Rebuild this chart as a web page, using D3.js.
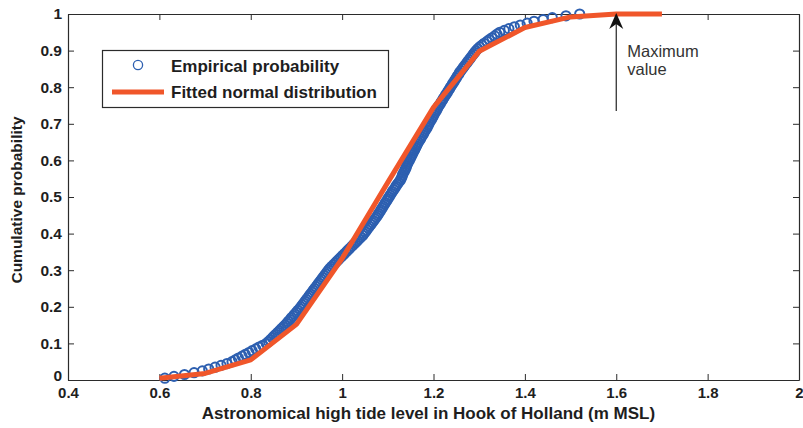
<!DOCTYPE html>
<html>
<head>
<meta charset="utf-8">
<script src="https://cdn.jsdelivr.net/npm/d3@7"></script>
<style>
  html, body { margin: 0; padding: 0; background: #fff; }
  svg { display: block; font-family: "Liberation Sans", Arial, sans-serif; }
</style>
</head>
<body>
<svg id="chart" width="803" height="428"></svg>
<script>
// Sorted astronomical high tide levels (m MSL); empirical probability = rank / n
const tideLevels = [
  0.612, 0.632, 0.655, 0.676, 0.694, 0.708, 0.722, 0.735, 0.748, 0.759,
  0.766, 0.773, 0.781, 0.788, 0.796, 0.803, 0.811, 0.818, 0.826, 0.834,
  0.839, 0.843, 0.847, 0.851, 0.855, 0.859, 0.863, 0.867, 0.871, 0.875,
  0.879, 0.882, 0.886, 0.889, 0.893, 0.896, 0.900, 0.903, 0.907, 0.910,
  0.913, 0.916, 0.919, 0.922, 0.925, 0.928, 0.931, 0.934, 0.937, 0.940,
  0.943, 0.946, 0.949, 0.952, 0.955, 0.958, 0.961, 0.964, 0.967, 0.970,
  0.973, 0.977, 0.981, 0.985, 0.989, 0.993, 0.997, 1.001, 1.005, 1.009,
  1.013, 1.017, 1.021, 1.025, 1.029, 1.033, 1.037, 1.041, 1.045, 1.048,
  1.051, 1.054, 1.057, 1.060, 1.063, 1.066, 1.069, 1.072, 1.075, 1.078,
  1.080, 1.083, 1.085, 1.088, 1.090, 1.093, 1.095, 1.098, 1.100, 1.103,
  1.105, 1.108, 1.110, 1.113, 1.116, 1.118, 1.121, 1.124, 1.127, 1.129,
  1.131, 1.132, 1.134, 1.136, 1.138, 1.140, 1.141, 1.143, 1.145, 1.147,
  1.149, 1.151, 1.153, 1.155, 1.157, 1.159, 1.161, 1.163, 1.165, 1.167,
  1.170, 1.172, 1.174, 1.177, 1.179, 1.181, 1.184, 1.186, 1.188, 1.190,
  1.192, 1.195, 1.197, 1.199, 1.201, 1.203, 1.206, 1.208, 1.210, 1.212,
  1.215, 1.217, 1.220, 1.222, 1.225, 1.227, 1.230, 1.232, 1.235, 1.237,
  1.240, 1.242, 1.245, 1.247, 1.250, 1.252, 1.255, 1.257, 1.260, 1.263,
  1.266, 1.269, 1.272, 1.275, 1.278, 1.281, 1.284, 1.287, 1.290, 1.293,
  1.297, 1.301, 1.306, 1.311, 1.317, 1.322, 1.328, 1.334, 1.339, 1.345,
  1.355, 1.365, 1.377, 1.390, 1.405, 1.420, 1.440, 1.460, 1.490, 1.520
];

// Fitted normal distribution, evaluated at 0.1 m steps
const fitLevels = [0.6, 0.7, 0.8, 0.9, 1.0, 1.1, 1.2, 1.3, 1.4, 1.5, 1.6, 1.7];
const fitProb   = [0.005, 0.018, 0.055, 0.152, 0.332, 0.54, 0.745, 0.898, 0.963, 0.992, 1.0, 1.0];

// Axis ticks and labels
const xTicks = [0.4, 0.6, 0.8, 1.0, 1.2, 1.4, 1.6, 1.8, 2.0];
const xTickLabels = ["0.4", "0.6", "0.8", "1", "1.2", "1.4", "1.6", "1.8", "2"];
const yTicks = [0, 0.1, 0.2, 0.3, 0.4, 0.5, 0.6, 0.7, 0.8, 0.9, 1.0];
const yTickLabels = ["0", "0.1", "0.2", "0.3", "0.4", "0.5", "0.6", "0.7", "0.8", "0.9", "1"];

// Annotation for the maximum tide level
const maxLevel = 1.6;
const maxArrowFrom = 0.735;
const maxLabel = ["Maximum", "value"];

const empColor = "#2d5fb0";
const fitColor = "#f0562a";
const axisColor = "#2b2b2b";

const svg = d3.select("#chart");
const plotLeft = 68, plotRight = 799, plotTop = 14, plotBottom = 380;

const x = d3.scaleLinear().domain([0.4, 2]).range([plotLeft, plotRight]);
const y = d3.scaleLinear().domain([0, 1]).range([plotBottom, plotTop]);

// Axes with inward ticks on all four sides
function styleAxis(g, size) {
  g.selectAll("path.domain").attr("stroke", axisColor).attr("stroke-width", 1.2);
  g.selectAll(".tick line").attr("stroke", axisColor).attr("stroke-width", 1);
  g.selectAll(".tick text")
    .attr("fill", "#1e1e1e")
    .style("font-size", size || "15.5px")
    .style("font-weight", "bold");
}

svg.append("g")
  .attr("transform", `translate(0,${plotBottom})`)
  .call(d3.axisBottom(x).tickValues(xTicks)
    .tickFormat((d, i) => xTickLabels[i])
    .tickSizeInner(-6).tickSizeOuter(0).tickPadding(7))
  .call(styleAxis, "15px");

svg.append("g")
  .attr("transform", `translate(0,${plotTop})`)
  .call(d3.axisTop(x).tickValues(xTicks).tickFormat("")
    .tickSizeInner(-6).tickSizeOuter(0))
  .call(styleAxis);

const yAxisG = svg.append("g")
  .attr("transform", `translate(${plotLeft},0)`)
  .call(d3.axisLeft(y).tickValues(yTicks)
    .tickFormat((d, i) => yTickLabels[i])
    .tickSizeInner(-6).tickSizeOuter(0).tickPadding(6))
  .call(styleAxis, "15.5px");

svg.append("g")
  .attr("transform", `translate(${plotRight},0)`)
  .call(d3.axisRight(y).tickValues(yTicks).tickFormat("")
    .tickSizeInner(-6).tickSizeOuter(0))
  .call(styleAxis);

// Lift the zero label so it clears the first x tick label
yAxisG.selectAll(".tick text").filter(d => d === 0)
  .attr("dy", "0.02em");

// Axis titles
svg.append("text")
  .attr("x", (plotLeft + plotRight) / 2 - 5)
  .attr("y", 419)
  .attr("text-anchor", "middle")
  .attr("fill", "#1e1e1e")
  .style("font-size", "17px")
  .style("font-weight", "bold")
  .text("Astronomical high tide level in Hook of Holland (m MSL)");

svg.append("text")
  .attr("transform", `translate(22,${(plotTop + plotBottom) / 2 + 3}) rotate(-90)`)
  .attr("text-anchor", "middle")
  .attr("fill", "#1e1e1e")
  .style("font-size", "15.5px")
  .style("font-weight", "bold")
  .text("Cumulative probability");

// Empirical probability circles
const n = tideLevels.length;
svg.append("g")
  .selectAll("circle")
  .data(tideLevels)
  .join("circle")
  .attr("cx", d => x(d))
  .attr("cy", (d, i) => y((i + 1) / n))
  .attr("r", 4.6)
  .attr("fill", "none")
  .attr("stroke", empColor)
  .attr("stroke-width", 2);

// Fitted normal CDF
svg.append("path")
  .datum(fitLevels.map((v, i) => [v, fitProb[i]]))
  .attr("fill", "none")
  .attr("stroke", fitColor)
  .attr("stroke-width", 5)
  .attr("stroke-linejoin", "round")
  .attr("d", d3.line().x(d => x(d[0])).y(d => y(d[1])));

// Maximum value arrow and label
const ax = x(maxLevel), tipY = y(1), baseY = y(maxArrowFrom);
svg.append("line")
  .attr("x1", ax).attr("x2", ax)
  .attr("y1", baseY).attr("y2", tipY + 8)
  .attr("stroke", "#222").attr("stroke-width", 1.2);
svg.append("path")
  .attr("d", `M${ax},${tipY - 1} L${ax + 7},${tipY + 15} L${ax},${tipY + 10} L${ax - 7},${tipY + 15} Z`)
  .attr("fill", "#111");

svg.append("text")
  .attr("x", ax + 11)
  .attr("y", 57)
  .attr("fill", "#333")
  .style("font-size", "16.5px")
  .selectAll("tspan")
  .data(maxLabel)
  .join("tspan")
  .attr("x", ax + 11)
  .attr("dy", (d, i) => i === 0 ? 0 : 18)
  .text(d => d);

// Legend
const legend = svg.append("g");
legend.append("rect")
  .attr("x", 102.5).attr("y", 50.5)
  .attr("width", 286).attr("height", 57)
  .attr("fill", "#fff")
  .attr("stroke", axisColor).attr("stroke-width", 1.2);
legend.append("circle")
  .attr("cx", 138).attr("cy", 65).attr("r", 4.6)
  .attr("fill", "none").attr("stroke", empColor).attr("stroke-width", 1.3);
legend.append("line")
  .attr("x1", 112).attr("x2", 164).attr("y1", 92).attr("y2", 92)
  .attr("stroke", fitColor).attr("stroke-width", 5);
const legendLabels = ["Empirical probability", "Fitted normal distribution"];
legend.selectAll("text")
  .data(legendLabels)
  .join("text")
  .attr("x", 171)
  .attr("y", (d, i) => i === 0 ? 72 : 98)
  .attr("fill", "#1e1e1e")
  .style("font-size", "17px")
  .style("font-weight", "bold")
  .text(d => d);
</script>
</body>
</html>
